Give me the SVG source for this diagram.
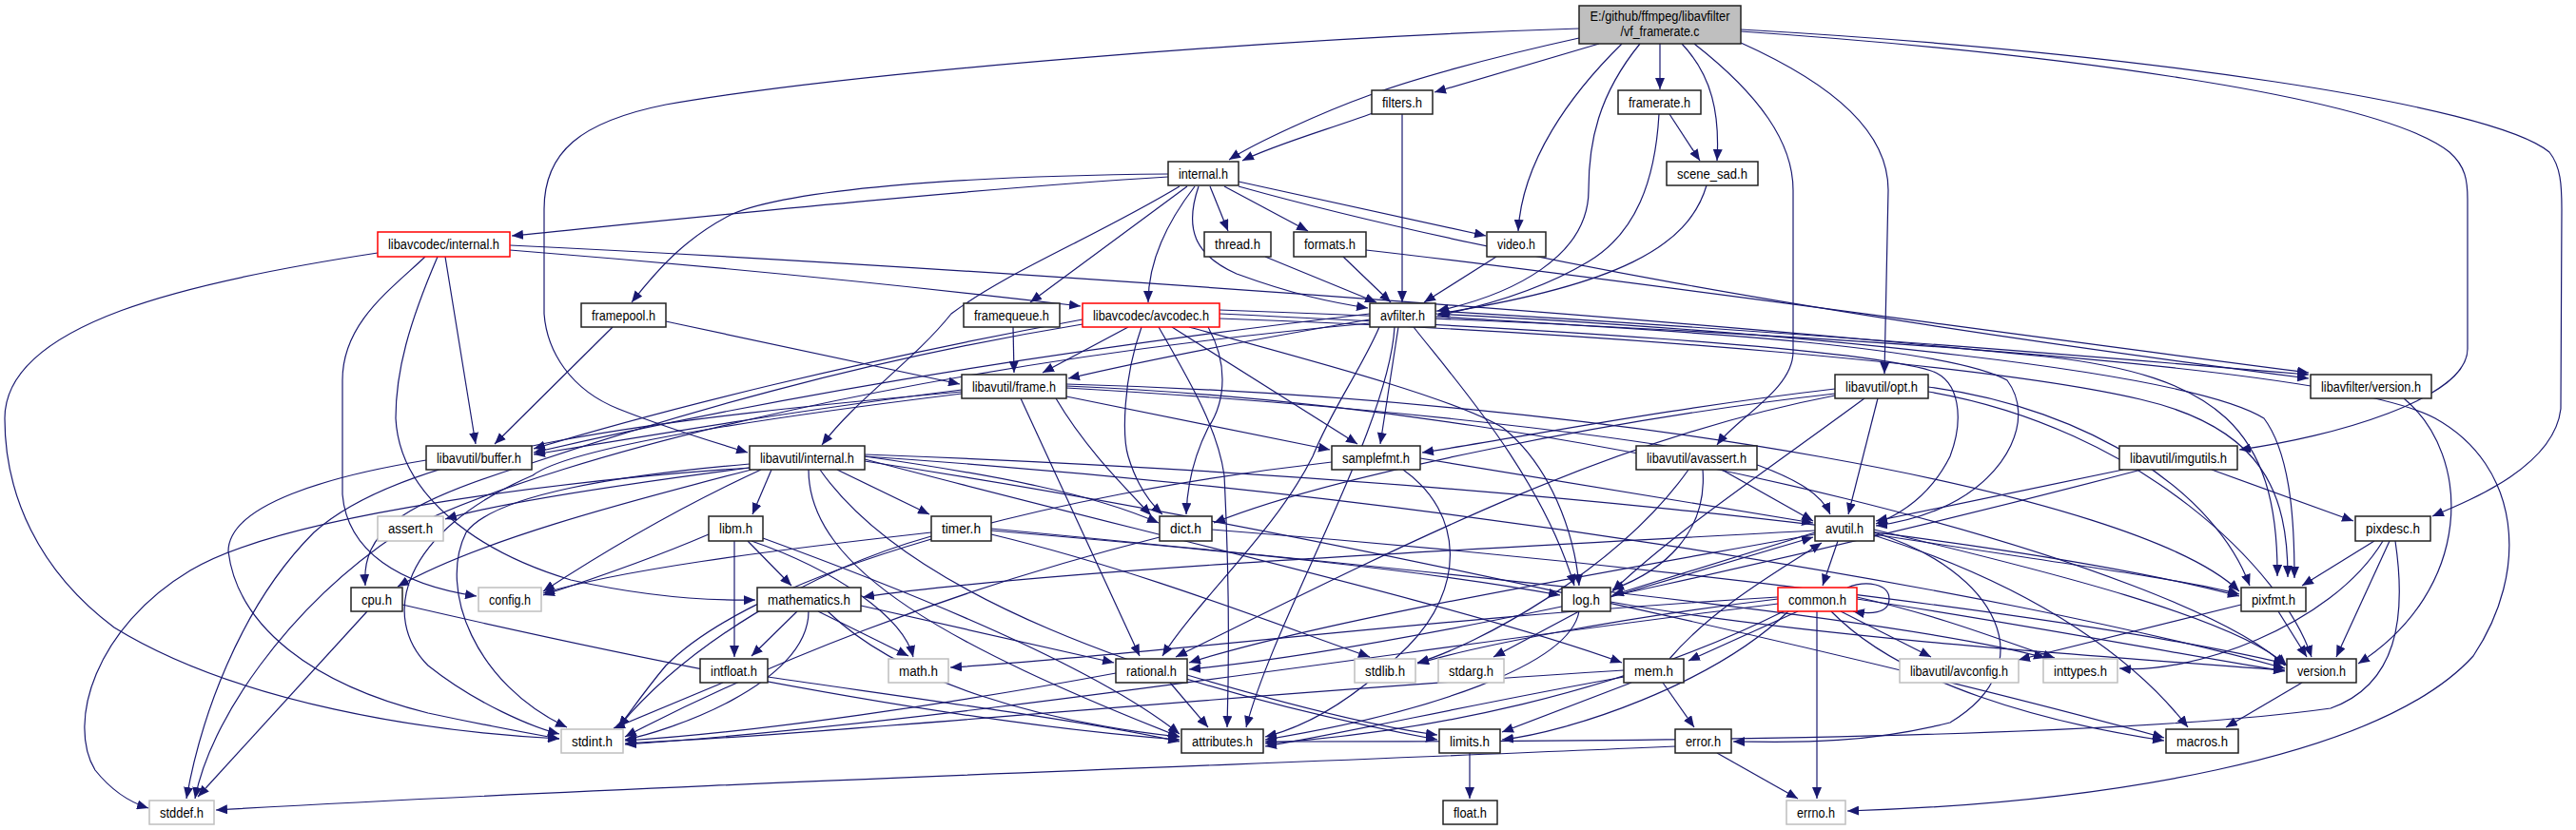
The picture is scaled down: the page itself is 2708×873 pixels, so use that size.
<svg xmlns="http://www.w3.org/2000/svg" width="2708" height="873" viewBox="0 0 2708 873">
<defs>
<marker id="arr" markerUnits="userSpaceOnUse" markerWidth="12" markerHeight="10" refX="12" refY="5" orient="auto" viewBox="0 0 12 10">
<path d="M0,0 L12,5 L0,10 z" fill="#191970" stroke="none"/>
</marker>
<style>
.nd rect{fill:#ffffff;stroke:#222222;stroke-width:1.5}
.nd.lt rect{stroke:#bfbfbf}
.nd.rd rect{stroke:#ff0000}
.nd.mn rect{fill:#bfbfbf}
.nd text{font-family:"Liberation Sans",Arial,sans-serif;font-size:14px;fill:#000000;text-anchor:middle}
#edges path{fill:none;stroke:#191970;stroke-width:1.2;marker-end:url(#arr)}
</style>
</defs>
<rect x="0" y="0" width="2708" height="873" fill="#ffffff"/>
<g id="edges">
<path d="M1660,30 C1350,40 900,75 700,110 C610,128 572,160 572,220 L572,330 C575,370 600,410 650,430 C700,450 750,465 786,476"/>
<path d="M1660,40 C1560,62 1480,85 1440,100 C1390,118 1320,150 1292,168"/>
<path d="M1681,46 L1508,97"/>
<path d="M1705,46 C1650,100 1600,170 1596,243"/>
<path d="M1724,46 C1680,100 1670,150 1670,200 C1670,270 1590,310 1511,327"/>
<path d="M1745,46 L1745,94"/>
<path d="M1768,46 C1800,80 1808,120 1805,169"/>
<path d="M1781,46 C1850,100 1885,150 1885,200 L1885,370 C1885,410 1825,440 1805,468"/>
<path d="M1830,45 C1930,90 1985,140 1985,200 L1981,393"/>
<path d="M1830,33 C2150,55 2500,100 2575,160 C2592,175 2594,190 2594,210 L2594,367 C2594,420 2450,460 2354,473"/>
<path d="M1830,31 C2250,55 2620,110 2680,160 C2692,175 2693,195 2693,220 L2692,430 C2685,490 2600,525 2557,543"/>
<path d="M1443,119 C1400,135 1340,152 1306,169"/>
<path d="M1474,120 L1474,318"/>
<path d="M1755,120 L1787,169"/>
<path d="M1744,120 C1740,190 1720,245 1670,275 C1620,305 1560,322 1511,332"/>
<path d="M1794,195 C1775,260 1700,300 1512,330"/>
<path d="M1228,186 C1000,200 700,232 538,248"/>
<path d="M1228,183 C1000,185 830,200 770,225 C720,250 690,285 664,318"/>
<path d="M1248,196 L1083,318"/>
<path d="M1256,196 C1222,240 1207,280 1207,318"/>
<path d="M1240,196 C1150,250 1060,285 1000,330 C960,380 900,420 864,468"/>
<path d="M1272,196 L1291,243"/>
<path d="M1287,196 L1375,243"/>
<path d="M1302,191 L1562,248"/>
<path d="M1260,196 C1245,240 1255,268 1300,288 C1360,310 1400,318 1438,324"/>
<path d="M1302,196 C1550,265 1900,330 2427,398"/>
<path d="M1330,270 L1447,318"/>
<path d="M1412,270 L1462,318"/>
<path d="M1436,263 C1700,293 2100,350 2427,392"/>
<path d="M1573,270 L1497,318"/>
<path d="M397,266 C200,296 5,340 5,440 C5,520 40,600 120,660 C250,740 450,770 588,777"/>
<path d="M447,270 C410,305 360,340 360,400 L360,520 C365,580 420,615 501,627"/>
<path d="M460,270 C430,340 416,390 416,440 C420,520 500,580 600,610 C680,628 740,632 794,631"/>
<path d="M468,270 L500,467"/>
<path d="M536,263 C750,280 950,300 1136,322"/>
<path d="M536,258 C1000,280 1700,330 2150,375 C2330,395 2395,450 2394,606"/>
<path d="M644,344 L520,467"/>
<path d="M700,338 C800,360 900,380 1009,404"/>
<path d="M1065,344 L1066,392"/>
<path d="M1186,344 L1096,392"/>
<path d="M1232,344 L1427,467"/>
<path d="M1200,344 C1180,400 1180,460 1186,480 C1195,510 1210,530 1222,541"/>
<path d="M1218,344 C1250,400 1280,450 1287,500 C1292,600 1292,700 1290,765"/>
<path d="M1250,344 C1400,385 1530,420 1580,450 C1630,490 1655,560 1660,616"/>
<path d="M1282,330 C1600,345 1950,365 2030,390 C2060,400 2065,440 2050,480 C2030,520 2000,540 1972,551"/>
<path d="M1282,326 C1800,345 2450,380 2560,440 C2650,490 2660,600 2600,690 C2500,800 2200,845 1942,853"/>
<path d="M1138,341 C900,380 700,440 550,490 C420,530 380,560 384,616"/>
<path d="M1138,336 C900,380 700,430 561,472"/>
<path d="M1282,335 C1700,350 2100,385 2250,420 C2380,450 2405,520 2405,607"/>
<path d="M1440,336 C1300,360 1200,380 1123,398"/>
<path d="M1470,344 L1451,467"/>
<path d="M1270,344 C1290,380 1290,420 1270,450 C1255,480 1248,510 1247,541"/>
<path d="M1450,344 C1430,390 1400,430 1380,480 C1340,560 1260,630 1222,690"/>
<path d="M1466,344 C1460,450 1340,650 1310,765"/>
<path d="M1486,344 C1530,400 1620,500 1655,616"/>
<path d="M1509,333 C1700,345 2040,360 2110,400 C2140,440 2110,500 2050,530 C2020,545 1995,550 1972,553"/>
<path d="M1440,330 C1100,370 800,420 561,476"/>
<path d="M1509,330 C1900,350 2300,390 2380,440 C2410,480 2412,560 2412,608"/>
<path d="M1509,327 C1900,350 2200,375 2427,394"/>
<path d="M1440,340 C1000,380 600,470 420,560 C300,640 220,760 205,840"/>
<path d="M1011,410 C850,430 700,455 561,478"/>
<path d="M1011,412 C700,440 430,470 330,560 C250,640 210,760 196,840"/>
<path d="M1011,414 C800,440 600,470 560,500 C420,560 400,650 450,700 C500,740 560,765 588,772"/>
<path d="M1110,419 C1140,470 1180,510 1210,542"/>
<path d="M1073,419 L1198,690"/>
<path d="M1121,417 L1398,473"/>
<path d="M1121,408 C1500,430 1800,470 1850,490 C1890,505 1915,520 1924,541"/>
<path d="M1121,404 C1700,420 2250,520 2354,622"/>
<path d="M1121,406 C1700,430 2300,600 2402,700"/>
<path d="M1929,409 C1750,430 1600,460 1495,476"/>
<path d="M1929,414 C1700,440 1400,500 1276,550"/>
<path d="M1929,416 C1700,460 1500,560 1236,691"/>
<path d="M1974,419 L1943,541"/>
<path d="M1960,419 C1850,500 1760,560 1695,622"/>
<path d="M2027,407 C2200,430 2330,520 2365,616"/>
<path d="M2027,412 C2250,450 2400,600 2430,691"/>
<path d="M2527,419 C2600,480 2600,620 2479,698"/>
<path d="M448,484 C350,500 240,530 240,580 C250,660 330,720 450,750 C520,765 560,772 588,777"/>
<path d="M788,492 C650,510 520,530 468,546"/>
<path d="M800,494 C700,540 620,590 571,622"/>
<path d="M790,494 C650,530 500,570 418,617"/>
<path d="M788,488 C650,500 520,520 490,560 C460,620 500,720 596,765"/>
<path d="M788,492 C600,505 300,540 200,600 C100,660 70,760 100,810 C120,835 140,845 156,850"/>
<path d="M811,494 L791,541"/>
<path d="M880,494 L977,541"/>
<path d="M909,480 C1050,500 1150,520 1218,550"/>
<path d="M850,494 C850,600 1000,680 1240,775"/>
<path d="M862,494 C950,620 1200,720 1511,778"/>
<path d="M909,485 C1400,560 2000,700 2275,776"/>
<path d="M909,483 C1200,560 1550,640 1705,697"/>
<path d="M909,478 C1500,500 2100,560 2354,627"/>
<path d="M909,480 C1500,520 2100,620 2402,703"/>
<path d="M1400,486 C1100,520 800,600 700,700 C675,730 662,750 650,765"/>
<path d="M1493,482 L1906,550"/>
<path d="M1475,494 C1540,540 1540,620 1480,680 C1420,740 1370,765 1330,775"/>
<path d="M1775,494 C1700,600 1550,680 1490,697"/>
<path d="M1810,494 L1906,548"/>
<path d="M1790,494 C1795,560 1750,600 1695,620"/>
<path d="M2232,494 L1972,548"/>
<path d="M2325,494 L2474,548"/>
<path d="M2251,494 C2000,560 1500,680 1250,704"/>
<path d="M745,562 C680,590 620,610 571,626"/>
<path d="M790,569 C880,600 950,650 960,691"/>
<path d="M802,566 C950,620 1150,700 1240,772"/>
<path d="M772,569 L772,691"/>
<path d="M786,569 L832,616"/>
<path d="M979,560 C800,580 650,600 571,624"/>
<path d="M1042,562 C1200,600 1350,660 1440,691"/>
<path d="M979,564 C850,600 720,680 650,765"/>
<path d="M1042,556 C1500,600 2000,650 2150,692"/>
<path d="M1042,558 C1300,580 1500,600 1640,626"/>
<path d="M1219,565 C1000,620 800,700 657,775"/>
<path d="M1274,557 C1700,590 2200,650 2402,698"/>
<path d="M1932,569 L1916,616"/>
<path d="M1970,560 C2100,600 2150,700 2050,760 C1950,785 1870,780 1822,780"/>
<path d="M1908,562 C1700,600 1400,650 1250,697"/>
<path d="M1970,557 C2150,600 2350,650 2404,700"/>
<path d="M1970,563 C2150,620 2250,700 2300,765"/>
<path d="M1908,558 C1500,580 1100,600 907,628"/>
<path d="M1908,560 L1695,626"/>
<path d="M1970,562 C2150,590 2300,610 2354,625"/>
<path d="M2505,569 C2450,660 2300,710 2228,703"/>
<path d="M2518,569 C2530,650 2520,720 2450,745 C2200,780 1600,780 1330,780"/>
<path d="M2496,569 L2420,616"/>
<path d="M2512,569 L2456,691"/>
<path d="M386,643 L208,838"/>
<path d="M423,636 C700,700 1000,760 1240,778"/>
<path d="M850,643 C850,720 700,770 657,778"/>
<path d="M860,643 L955,690"/>
<path d="M870,643 C950,720 1100,760 1240,775"/>
<path d="M905,637 L1171,697"/>
<path d="M838,643 L790,690"/>
<path d="M1660,643 L1570,691"/>
<path d="M1693,628 L1906,565"/>
<path d="M1660,643 C1650,700 1500,750 1330,778"/>
<path d="M1693,633 C1900,670 2200,690 2402,705"/>
<path d="M1910,643 L1910,840"/>
<path d="M1952,628 C2050,650 2120,680 2160,692"/>
<path d="M1880,643 C1800,720 1650,770 1579,778"/>
<path d="M1869,628 C1500,650 1200,690 999,702"/>
<path d="M1869,635 C1500,680 1000,760 657,783"/>
<path d="M1869,630 C1700,650 1550,680 1490,698"/>
<path d="M1875,643 C1700,730 1500,770 1330,782"/>
<path d="M1925,643 C2000,720 2150,760 2275,779"/>
<path d="M1952,630 C2150,660 2300,690 2402,706"/>
<path d="M1935,643 L2030,691"/>
<path d="M1890,643 L1775,695"/>
<path d="M1942,618 C1962,610 1986,614 1986,630 C1986,646 1965,646 1948,643"/>
<path d="M2356,636 L2122,694"/>
<path d="M2395,643 L2425,691"/>
<path d="M760,718 L645,766"/>
<path d="M807,712 C1000,740 1150,760 1240,780"/>
<path d="M1173,708 C1000,740 800,770 657,779"/>
<path d="M1248,710 C1350,740 1450,765 1511,773"/>
<path d="M1230,718 L1270,765"/>
<path d="M1715,718 L1579,770"/>
<path d="M1707,705 C1300,730 900,770 657,782"/>
<path d="M1707,712 C1550,740 1420,770 1330,785"/>
<path d="M1748,718 L1781,765"/>
<path d="M1755,693 C1800,640 1870,600 1915,571"/>
<path d="M2420,718 L2340,765"/>
<path d="M1545,792 L1545,840"/>
<path d="M1805,792 L1890,840"/>
<path d="M1761,785 C1300,805 700,825 227,852"/>
</g>
<g id="nodes">
<g id="n_main" class="nd mn"><rect x="1660" y="6" width="170" height="40"/><text x="1745" y="22" textLength="147" lengthAdjust="spacingAndGlyphs">E:/github/ffmpeg/libavfilter</text><text x="1745" y="38" textLength="83" lengthAdjust="spacingAndGlyphs">/vf_framerate.c</text></g>
<g id="n_filters" class="nd"><rect x="1442" y="95" width="64" height="25"/><text x="1474" y="112.5" textLength="42" lengthAdjust="spacingAndGlyphs">filters.h</text></g>
<g id="n_framerate" class="nd"><rect x="1701" y="95" width="87" height="25"/><text x="1744.5" y="112.5" textLength="65" lengthAdjust="spacingAndGlyphs">framerate.h</text></g>
<g id="n_scene_sad" class="nd"><rect x="1752" y="170" width="96" height="25"/><text x="1800" y="187.5" textLength="74" lengthAdjust="spacingAndGlyphs">scene_sad.h</text></g>
<g id="n_internal" class="nd"><rect x="1228" y="170" width="74" height="25"/><text x="1265" y="187.5" textLength="52" lengthAdjust="spacingAndGlyphs">internal.h</text></g>
<g id="n_lc_internal" class="nd rd"><rect x="397" y="244" width="139" height="26"/><text x="466.5" y="262" textLength="117" lengthAdjust="spacingAndGlyphs">libavcodec/internal.h</text></g>
<g id="n_thread" class="nd"><rect x="1266" y="244" width="70" height="26"/><text x="1301" y="262" textLength="48" lengthAdjust="spacingAndGlyphs">thread.h</text></g>
<g id="n_formats" class="nd"><rect x="1360" y="244" width="76" height="26"/><text x="1398" y="262" textLength="54" lengthAdjust="spacingAndGlyphs">formats.h</text></g>
<g id="n_video" class="nd"><rect x="1563" y="244" width="62" height="26"/><text x="1594" y="262" textLength="40" lengthAdjust="spacingAndGlyphs">video.h</text></g>
<g id="n_framepool" class="nd"><rect x="611" y="319" width="89" height="25"/><text x="655.5" y="336.5" textLength="67" lengthAdjust="spacingAndGlyphs">framepool.h</text></g>
<g id="n_framequeue" class="nd"><rect x="1013" y="319" width="101" height="25"/><text x="1063.5" y="336.5" textLength="79" lengthAdjust="spacingAndGlyphs">framequeue.h</text></g>
<g id="n_avcodec" class="nd rd"><rect x="1138" y="319" width="144" height="25"/><text x="1210" y="336.5" textLength="122" lengthAdjust="spacingAndGlyphs">libavcodec/avcodec.h</text></g>
<g id="n_avfilter" class="nd"><rect x="1440" y="319" width="69" height="25"/><text x="1474.5" y="336.5" textLength="47" lengthAdjust="spacingAndGlyphs">avfilter.h</text></g>
<g id="n_frame" class="nd"><rect x="1011" y="394" width="110" height="25"/><text x="1066" y="411.5" textLength="88" lengthAdjust="spacingAndGlyphs">libavutil/frame.h</text></g>
<g id="n_opt" class="nd"><rect x="1929" y="394" width="98" height="25"/><text x="1978" y="411.5" textLength="76" lengthAdjust="spacingAndGlyphs">libavutil/opt.h</text></g>
<g id="n_lf_version" class="nd"><rect x="2429" y="394" width="127" height="25"/><text x="2492.5" y="411.5" textLength="105" lengthAdjust="spacingAndGlyphs">libavfilter/version.h</text></g>
<g id="n_buffer" class="nd"><rect x="448" y="469" width="111" height="25"/><text x="503.5" y="486.5" textLength="89" lengthAdjust="spacingAndGlyphs">libavutil/buffer.h</text></g>
<g id="n_lu_internal" class="nd"><rect x="788" y="469" width="121" height="25"/><text x="848.5" y="486.5" textLength="99" lengthAdjust="spacingAndGlyphs">libavutil/internal.h</text></g>
<g id="n_samplefmt" class="nd"><rect x="1400" y="469" width="93" height="25"/><text x="1446.5" y="486.5" textLength="71" lengthAdjust="spacingAndGlyphs">samplefmt.h</text></g>
<g id="n_avassert" class="nd"><rect x="1720" y="469" width="127" height="25"/><text x="1783.5" y="486.5" textLength="105" lengthAdjust="spacingAndGlyphs">libavutil/avassert.h</text></g>
<g id="n_imgutils" class="nd"><rect x="2228" y="469" width="124" height="25"/><text x="2290" y="486.5" textLength="102" lengthAdjust="spacingAndGlyphs">libavutil/imgutils.h</text></g>
<g id="n_assert" class="nd lt"><rect x="397" y="543" width="69" height="26"/><text x="431.5" y="561" textLength="47" lengthAdjust="spacingAndGlyphs">assert.h</text></g>
<g id="n_libm" class="nd"><rect x="745" y="543" width="57" height="26"/><text x="773.5" y="561" textLength="35" lengthAdjust="spacingAndGlyphs">libm.h</text></g>
<g id="n_timer" class="nd"><rect x="979" y="543" width="63" height="26"/><text x="1010.5" y="561" textLength="41" lengthAdjust="spacingAndGlyphs">timer.h</text></g>
<g id="n_dict" class="nd"><rect x="1219" y="543" width="55" height="26"/><text x="1246.5" y="561" textLength="33" lengthAdjust="spacingAndGlyphs">dict.h</text></g>
<g id="n_avutil" class="nd"><rect x="1908" y="543" width="62" height="26"/><text x="1939" y="561" textLength="40" lengthAdjust="spacingAndGlyphs">avutil.h</text></g>
<g id="n_pixdesc" class="nd"><rect x="2476" y="543" width="79" height="26"/><text x="2515.5" y="561" textLength="57" lengthAdjust="spacingAndGlyphs">pixdesc.h</text></g>
<g id="n_cpu" class="nd"><rect x="369" y="618" width="54" height="25"/><text x="396" y="635.5" textLength="32" lengthAdjust="spacingAndGlyphs">cpu.h</text></g>
<g id="n_config" class="nd lt"><rect x="503" y="618" width="66" height="25"/><text x="536" y="635.5" textLength="44" lengthAdjust="spacingAndGlyphs">config.h</text></g>
<g id="n_mathematics" class="nd"><rect x="796" y="618" width="109" height="25"/><text x="850.5" y="635.5" textLength="87" lengthAdjust="spacingAndGlyphs">mathematics.h</text></g>
<g id="n_log" class="nd"><rect x="1642" y="618" width="51" height="25"/><text x="1667.5" y="635.5" textLength="29" lengthAdjust="spacingAndGlyphs">log.h</text></g>
<g id="n_common" class="nd rd"><rect x="1869" y="618" width="83" height="25"/><text x="1910.5" y="635.5" textLength="61" lengthAdjust="spacingAndGlyphs">common.h</text></g>
<g id="n_pixfmt" class="nd"><rect x="2356" y="618" width="68" height="25"/><text x="2390" y="635.5" textLength="46" lengthAdjust="spacingAndGlyphs">pixfmt.h</text></g>
<g id="n_math" class="nd lt"><rect x="934" y="693" width="63" height="25"/><text x="965.5" y="710.5" textLength="41" lengthAdjust="spacingAndGlyphs">math.h</text></g>
<g id="n_intfloat" class="nd"><rect x="736" y="693" width="71" height="25"/><text x="771.5" y="710.5" textLength="49" lengthAdjust="spacingAndGlyphs">intfloat.h</text></g>
<g id="n_rational" class="nd"><rect x="1173" y="693" width="75" height="25"/><text x="1210.5" y="710.5" textLength="53" lengthAdjust="spacingAndGlyphs">rational.h</text></g>
<g id="n_stdlib" class="nd lt"><rect x="1424" y="693" width="64" height="25"/><text x="1456" y="710.5" textLength="42" lengthAdjust="spacingAndGlyphs">stdlib.h</text></g>
<g id="n_stdarg" class="nd lt"><rect x="1512" y="693" width="69" height="25"/><text x="1546.5" y="710.5" textLength="47" lengthAdjust="spacingAndGlyphs">stdarg.h</text></g>
<g id="n_mem" class="nd"><rect x="1707" y="693" width="63" height="25"/><text x="1738.5" y="710.5" textLength="41" lengthAdjust="spacingAndGlyphs">mem.h</text></g>
<g id="n_avconfig" class="nd lt"><rect x="1997" y="693" width="125" height="25"/><text x="2059.5" y="710.5" textLength="103" lengthAdjust="spacingAndGlyphs">libavutil/avconfig.h</text></g>
<g id="n_inttypes" class="nd lt"><rect x="2148" y="693" width="78" height="25"/><text x="2187" y="710.5" textLength="56" lengthAdjust="spacingAndGlyphs">inttypes.h</text></g>
<g id="n_version" class="nd"><rect x="2404" y="693" width="73" height="25"/><text x="2440.5" y="710.5" textLength="51" lengthAdjust="spacingAndGlyphs">version.h</text></g>
<g id="n_stdint" class="nd lt"><rect x="590" y="767" width="65" height="25"/><text x="622.5" y="784.5" textLength="43" lengthAdjust="spacingAndGlyphs">stdint.h</text></g>
<g id="n_attributes" class="nd"><rect x="1242" y="767" width="86" height="25"/><text x="1285" y="784.5" textLength="64" lengthAdjust="spacingAndGlyphs">attributes.h</text></g>
<g id="n_limits" class="nd"><rect x="1513" y="767" width="64" height="25"/><text x="1545" y="784.5" textLength="42" lengthAdjust="spacingAndGlyphs">limits.h</text></g>
<g id="n_error" class="nd"><rect x="1761" y="767" width="59" height="25"/><text x="1790.5" y="784.5" textLength="37" lengthAdjust="spacingAndGlyphs">error.h</text></g>
<g id="n_macros" class="nd"><rect x="2277" y="767" width="76" height="25"/><text x="2315" y="784.5" textLength="54" lengthAdjust="spacingAndGlyphs">macros.h</text></g>
<g id="n_stddef" class="nd lt"><rect x="157" y="842" width="68" height="25"/><text x="191" y="859.5" textLength="46" lengthAdjust="spacingAndGlyphs">stddef.h</text></g>
<g id="n_float" class="nd"><rect x="1517" y="842" width="57" height="25"/><text x="1545.5" y="859.5" textLength="35" lengthAdjust="spacingAndGlyphs">float.h</text></g>
<g id="n_errno" class="nd lt"><rect x="1878" y="842" width="62" height="25"/><text x="1909" y="859.5" textLength="40" lengthAdjust="spacingAndGlyphs">errno.h</text></g>
</g>
</svg>
